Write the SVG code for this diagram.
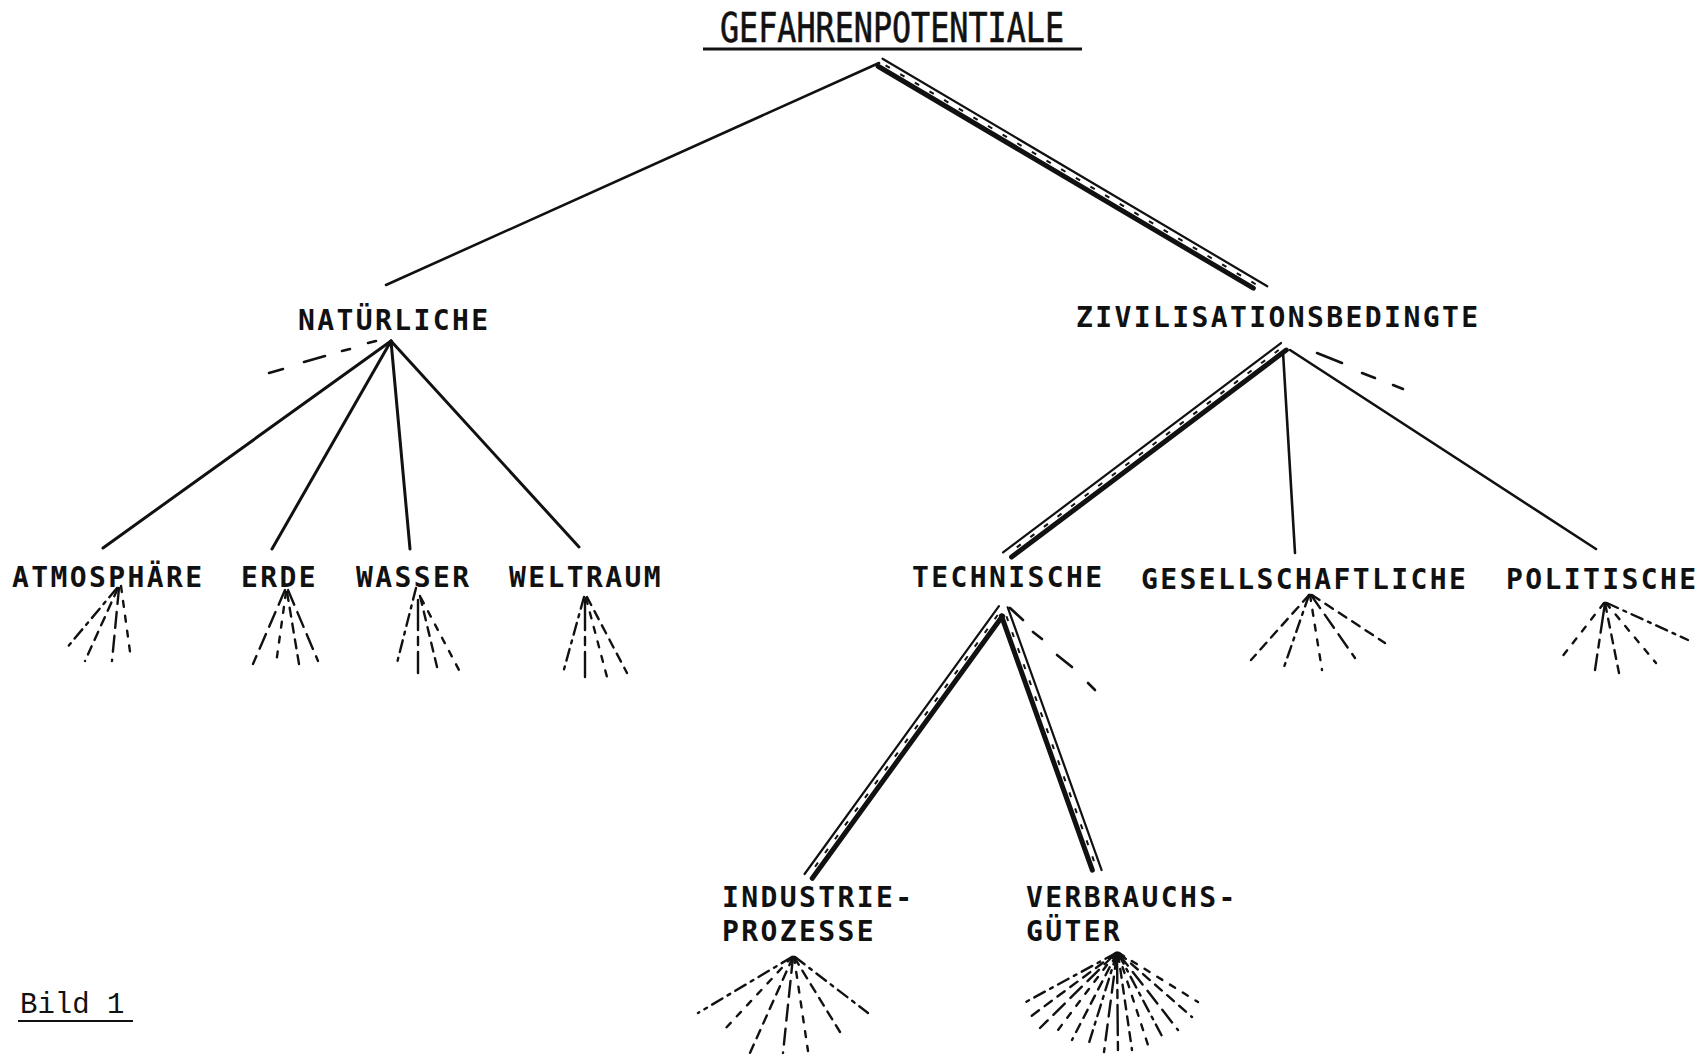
<svg xmlns="http://www.w3.org/2000/svg" width="1705" height="1055" viewBox="0 0 1705 1055">
  <style>
    .lbl { font-family: "DejaVu Sans Mono", "Liberation Mono", monospace; font-weight: bold; font-size: 28px; letter-spacing: 2.4px; fill: #111; }
    .title { font-family: "DejaVu Sans Mono", "Liberation Mono", monospace; font-weight: normal; font-size: 40px; fill: #111; stroke: #111; stroke-width: 0.6; }
    .cap { font-family: "Liberation Mono", "Courier New", monospace; font-size: 29px; fill: #111; }
    .edge { stroke: #111; stroke-width: 2.6; stroke-linecap: round; fill: none; }
    .edge-b { stroke: #111; stroke-width: 3; stroke-linecap: round; fill: none; }
    .dash { stroke: #111; stroke-width: 2.6; stroke-linecap: round; }
    .rail-thin { stroke: #111; stroke-width: 2.2; stroke-linecap: round; }
    .rail-mid { stroke: #111; stroke-width: 2; stroke-dasharray: 5 12; }
    .rail-thick { stroke: #111; stroke-width: 5; stroke-linecap: round; }
    .fan line { stroke: #111; stroke-width: 2.4; stroke-linecap: round; }
    .f1 { stroke-dasharray: 9 7; }
    .f2 { stroke-dasharray: 12 6 3 6; }
    .f3 { stroke-dasharray: 6 9; }
    .f4 { stroke-dasharray: 16 8; }
    .f5 { stroke-dasharray: 30 7 8 7; }
    .rule { stroke: #111; fill: none; }
  </style>

  <rect width="1705" height="1055" fill="#fff"/>

  <!-- connectors -->
  <g id="connectors">
    <!-- plain single edges -->
    <line class="edge" x1="879" y1="63" x2="386" y2="285"/>
    <line class="edge-b" x1="391" y1="341" x2="103" y2="548"/>
    <line class="edge-b" x1="391" y1="341" x2="272" y2="549"/>
    <line class="edge-b" x1="391" y1="341" x2="410" y2="549"/>
    <line class="edge-b" x1="391" y1="341" x2="579" y2="547"/>
    <line class="edge" x1="1283" y1="352" x2="1295" y2="553"/>
    <line class="edge" x1="1290" y1="350" x2="1596" y2="549"/>

    <!-- emphasised triple rails: thin line, dotted core, heavy line -->
    <g id="rail-gef-ziv" transform="translate(880,63) rotate(30.6)">
      <line class="rail-thin" x1="0" y1="-5" x2="447" y2="-5"/>
      <line class="rail-mid" x1="6" y1="-0.8" x2="438" y2="-0.8"/>
      <line class="rail-thick" x1="0" y1="3.8" x2="436" y2="3.8"/>
    </g>
    <g id="rail-ziv-tech" transform="translate(1284,347) rotate(143)">
      <line class="rail-thin" x1="0" y1="5" x2="348" y2="5"/>
      <line class="rail-mid" x1="6" y1="0.8" x2="342" y2="0.8"/>
      <line class="rail-thick" x1="0" y1="-3.8" x2="344" y2="-3.8"/>
    </g>
    <g id="rail-tech-ind" transform="translate(1003,609) rotate(125.96)">
      <line class="rail-thin" x1="0" y1="5" x2="331" y2="5"/>
      <line class="rail-mid" x1="8" y1="0.8" x2="326" y2="0.8"/>
      <line class="rail-thick" x1="6" y1="-3.8" x2="330" y2="-3.8"/>
    </g>
    <g id="rail-tech-verb" transform="translate(1003,609) rotate(70.33)">
      <line class="rail-thin" x1="0" y1="-5" x2="279" y2="-5"/>
      <line class="rail-mid" x1="8" y1="-0.8" x2="274" y2="-0.8"/>
      <line class="rail-thick" x1="6" y1="3.8" x2="276" y2="3.8"/>
    </g>

    <!-- dashed side branches -->
    <g id="side-natuerliche">
      <line class="dash" x1="368" y1="343" x2="376" y2="341"/>
      <line class="dash" x1="342" y1="351" x2="350" y2="349"/>
      <line class="dash" x1="304" y1="362" x2="325" y2="356"/>
      <line class="dash" x1="269" y1="373" x2="283" y2="369"/>
    </g>
    <g id="side-zivil">
      <line class="dash" x1="1317" y1="353" x2="1342" y2="363"/>
      <line class="dash" x1="1362" y1="373" x2="1375" y2="378"/>
      <line class="dash" x1="1393" y1="385" x2="1403" y2="389"/>
    </g>
    <g id="side-technische">
      <line class="dash" x1="1010" y1="608" x2="1023" y2="620"/>
      <line class="dash" x1="1033" y1="632" x2="1042" y2="639"/>
      <line class="dash" x1="1057" y1="655" x2="1072" y2="667"/>
      <line class="dash" x1="1088" y1="683" x2="1095" y2="690"/>
    </g>

    <!-- open fans of unnamed sub-branches -->
    <g class="fan" id="fan-atmosphaere">
      <line class="f2" x1="117" y1="588" x2="65" y2="650"/>
      <line class="f1" x1="118" y1="588" x2="85" y2="661"/>
      <line class="f4" x1="119" y1="588" x2="112" y2="661"/>
      <line class="f3" x1="121" y1="586" x2="131" y2="659"/>
    </g>
    <g class="fan" id="fan-erde">
      <line class="f4" x1="285" y1="590" x2="253" y2="664"/>
      <line class="f3" x1="286" y1="592" x2="276" y2="664"/>
      <line class="f1" x1="287" y1="592" x2="299" y2="664"/>
      <line class="f4" x1="288" y1="590" x2="318" y2="661"/>
    </g>
    <g class="fan" id="fan-wasser">
      <line class="f2" x1="416" y1="588" x2="397" y2="663"/>
      <line class="f5" x1="418" y1="600" x2="418" y2="673"/>
      <line class="f1" x1="420" y1="596" x2="438" y2="671"/>
      <line class="f3" x1="421" y1="598" x2="459" y2="670"/>
    </g>
    <g class="fan" id="fan-weltraum">
      <line class="f2" x1="584" y1="597" x2="563" y2="673"/>
      <line class="f5" x1="585" y1="600" x2="585" y2="677"/>
      <line class="f3" x1="586" y1="598" x2="607" y2="677"/>
      <line class="f1" x1="587" y1="597" x2="627" y2="673"/>
    </g>
    <g class="fan" id="fan-gesellschaftliche">
      <line class="f1" x1="1309" y1="595" x2="1251" y2="660"/>
      <line class="f2" x1="1309" y1="595" x2="1283" y2="670"/>
      <line class="f3" x1="1310" y1="595" x2="1322" y2="670"/>
      <line class="f4" x1="1311" y1="595" x2="1355" y2="658"/>
      <line class="f1" x1="1312" y1="595" x2="1385" y2="643"/>
    </g>
    <g class="fan" id="fan-politische">
      <line class="f3" x1="1604" y1="603" x2="1562" y2="657"/>
      <line class="f5" x1="1605" y1="603" x2="1595" y2="670"/>
      <line class="f1" x1="1605" y1="603" x2="1619" y2="673"/>
      <line class="f3" x1="1606" y1="603" x2="1656" y2="663"/>
      <line class="f2" x1="1607" y1="603" x2="1688" y2="640"/>
    </g>
    <g class="fan" id="fan-industrieprozesse">
      <line class="f2" x1="792" y1="957" x2="698" y2="1013"/>
      <line class="f3" x1="792" y1="957" x2="725" y2="1029"/>
      <line class="f1" x1="793" y1="957" x2="750" y2="1053"/>
      <line class="f4" x1="793" y1="957" x2="783" y2="1053"/>
      <line class="f3" x1="794" y1="957" x2="808" y2="1051"/>
      <line class="f1" x1="794" y1="957" x2="840" y2="1032"/>
      <line class="f2" x1="795" y1="957" x2="868" y2="1013"/>
    </g>
    <g class="fan" id="fan-verbrauchsgueter">
      <line class="f2" x1="1116" y1="953" x2="1024" y2="1003"/>
      <line class="f1" x1="1116" y1="953" x2="1030" y2="1017"/>
      <line class="f4" x1="1116" y1="953" x2="1040" y2="1028"/>
      <line class="f3" x1="1116" y1="953" x2="1055" y2="1034"/>
      <line class="f1" x1="1117" y1="953" x2="1072" y2="1040"/>
      <line class="f2" x1="1117" y1="953" x2="1088" y2="1046"/>
      <line class="f4" x1="1117" y1="953" x2="1104" y2="1052"/>
      <line class="f5" x1="1117" y1="953" x2="1118" y2="1055"/>
      <line class="f1" x1="1118" y1="953" x2="1132" y2="1050"/>
      <line class="f3" x1="1118" y1="953" x2="1148" y2="1045"/>
      <line class="f2" x1="1118" y1="953" x2="1163" y2="1038"/>
      <line class="f4" x1="1118" y1="953" x2="1178" y2="1030"/>
      <line class="f1" x1="1119" y1="953" x2="1192" y2="1017"/>
      <line class="f3" x1="1119" y1="953" x2="1198" y2="1002"/>
    </g>
  </g>

  <!-- nodes -->
  <g id="n-gefahrenpotentiale">
    <text class="title" x="720" y="42" textLength="344" lengthAdjust="spacingAndGlyphs">GEFAHRENPOTENTIALE</text>
    <line class="rule" x1="703" y1="49" x2="1082" y2="49" stroke-width="3"/>
  </g>
  <g id="n-natuerliche"><text class="lbl" x="298" y="330">NATÜRLICHE</text></g>
  <g id="n-zivilisationsbedingte"><text class="lbl" x="1076" y="327">ZIVILISATIONSBEDINGTE</text></g>
  <g id="n-atmosphaere"><text class="lbl" x="12" y="587">ATMOSPHÄRE</text></g>
  <g id="n-erde"><text class="lbl" x="241" y="587">ERDE</text></g>
  <g id="n-wasser"><text class="lbl" x="356" y="587">WASSER</text></g>
  <g id="n-weltraum"><text class="lbl" x="509" y="587">WELTRAUM</text></g>
  <g id="n-technische"><text class="lbl" x="912" y="587">TECHNISCHE</text></g>
  <g id="n-gesellschaftliche"><text class="lbl" x="1141" y="589">GESELLSCHAFTLICHE</text></g>
  <g id="n-politische"><text class="lbl" x="1506" y="589">POLITISCHE</text></g>
  <g id="n-industrieprozesse">
    <text class="lbl" x="722" y="907">INDUSTRIE-</text>
    <text class="lbl" x="722" y="941">PROZESSE</text>
  </g>
  <g id="n-verbrauchsgueter">
    <text class="lbl" x="1026" y="907">VERBRAUCHS-</text>
    <text class="lbl" x="1026" y="941">GÜTER</text>
  </g>

  <!-- figure caption -->
  <g id="caption">
    <text class="cap" x="20" y="1013">Bild 1</text>
    <line class="rule" x1="18" y1="1021" x2="133" y2="1021" stroke-width="2"/>
  </g>
</svg>
